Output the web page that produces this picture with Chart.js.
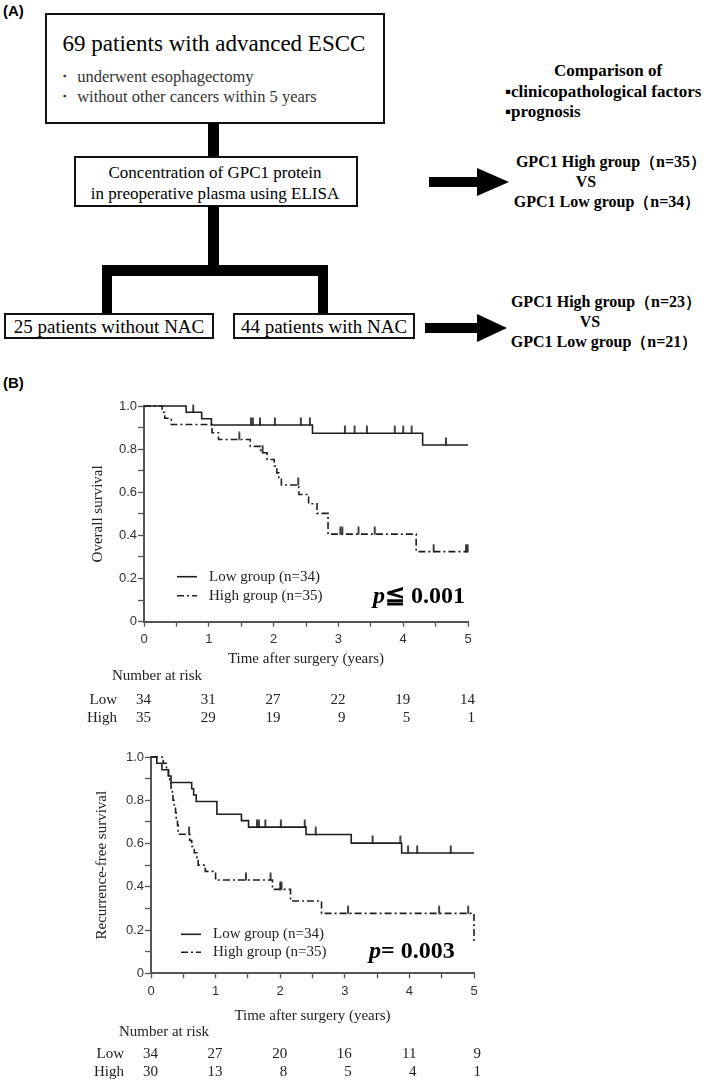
<!DOCTYPE html>
<html lang="en">
<head>
  <meta charset="UTF-8">
  <title>GPC1 in ESCC - study design and survival</title>
  <script src="https://cdn.jsdelivr.net/npm/chart.js"></script>
  <style>
    body {
      margin: 0;
      width: 709px;
      height: 1080px;
      position: relative;
      overflow: hidden;
      background: #fff;
      font-family: "Liberation Serif", serif;
      color: #000;
    }
    .box { position: absolute; border: 2px solid #111; box-sizing: border-box; background: #fff; }
    .bar { position: absolute; background: #000; }
    .t { position: absolute; white-space: nowrap; line-height: 1; }
    .c { transform: translate(-50%, -50%); }
    .l { transform: translateY(-50%); }
    .b { font-weight: bold; }
    .panel { position: absolute; font-family: "Liberation Sans", Arial, sans-serif; font-weight: bold; font-size: 15px; }
    .chartbox { position: absolute; left: 0; width: 709px; height: 350px; }
  </style>
</head>
<body>
  <!-- (A) flowchart -->
  <div class="panel" style="left:3px;top:2px">(A)</div>

  <div class="box" style="left:45px;top:13px;width:340px;height:111px"></div>
  <div class="t c" style="left:214px;top:43px;font-size:23px">69 patients with advanced ESCC</div>
  <div class="t l" style="left:56px;top:77px;font-size:16.5px;color:#333">・ underwent esophagectomy</div>
  <div class="t l" style="left:56px;top:97px;font-size:16.5px;color:#333">・ without other cancers within 5 years</div>

  <div class="bar" style="left:208px;top:123px;width:11px;height:34px"></div>

  <div class="box" style="left:74px;top:156px;width:284px;height:51px"></div>
  <div class="t c" style="left:215px;top:172px;font-size:17px">Concentration of GPC1 protein</div>
  <div class="t c" style="left:215px;top:193px;font-size:17px">in preoperative plasma using ELISA</div>

  <div class="bar" style="left:208px;top:206px;width:11px;height:60px"></div>
  <div class="bar" style="left:102px;top:265px;width:226px;height:11px"></div>
  <div class="bar" style="left:102px;top:265px;width:10px;height:49px"></div>
  <div class="bar" style="left:318px;top:265px;width:10px;height:49px"></div>

  <div class="box" style="left:4px;top:313px;width:210px;height:26px"></div>
  <div class="t c" style="left:109px;top:326px;font-size:19px">25 patients without NAC</div>
  <div class="box" style="left:233px;top:313px;width:182px;height:26px"></div>
  <div class="t c" style="left:324px;top:326px;font-size:19px">44 patients with NAC</div>

  <svg style="position:absolute;left:0;top:0" width="709" height="380">
    <rect x="429" y="177" width="50" height="10" fill="#000"/>
    <polygon points="477,168 509,182 477,196" fill="#000"/>
    <rect x="425" y="323" width="54" height="10" fill="#000"/>
    <polygon points="477,314 507,328 477,342" fill="#000"/>
  </svg>

  <div class="t c b" style="left:608px;top:70px;font-size:17px">Comparison of</div>
  <div class="t l b" style="left:505px;top:91px;font-size:17px">▪clinicopathological factors</div>
  <div class="t l b" style="left:505px;top:111px;font-size:17px">▪prognosis</div>

  <div class="t c b" style="left:611px;top:162px;font-size:16px">GPC1 High group（n=35）</div>
  <div class="t c b" style="left:586px;top:182px;font-size:16px">VS</div>
  <div class="t c b" style="left:607px;top:202px;font-size:16px">GPC1 Low group（n=34）</div>

  <div class="t c b" style="left:606px;top:302px;font-size:16px">GPC1 High group（n=23）</div>
  <div class="t c b" style="left:590px;top:322px;font-size:16px">VS</div>
  <div class="t c b" style="left:604px;top:342px;font-size:16px">GPC1 Low group（n=21）</div>

  <!-- (B) survival curves -->
  <div class="panel" style="left:3px;top:374px">(B)</div>
  <div class="chartbox" style="top:380px"><canvas id="osChart" width="709" height="350"></canvas></div>
  <div class="chartbox" style="top:730px"><canvas id="rfsChart" width="709" height="350"></canvas></div>

  <script>
    // years shown in the number-at-risk tables
    const riskYears = [0, 1, 2, 3, 4, 5];

    // Overall survival
    const osLowTimes = [0, 0.65, 0.89, 1.04, 2.60, 4.30, 5.0];
    const osLowSurv = [1, 0.971, 0.941, 0.912, 0.874, 0.819, 0.819];
    const osLowCensor = [0.76, 1.65, 1.68, 1.79, 2.02, 2.42, 2.56, 3.10, 3.25, 3.44, 3.87, 4.00, 4.13, 4.66];
    const osHighTimes = [0, 0.28, 0.32, 0.42, 1.05, 1.15, 1.64, 1.80, 1.90, 2.01, 2.05, 2.08, 2.12, 2.39, 2.54, 2.67, 2.84, 4.20, 5.0];
    const osHighSurv = [1, 0.971, 0.943, 0.914, 0.876, 0.845, 0.813, 0.783, 0.752, 0.722, 0.690, 0.664, 0.634, 0.590, 0.547, 0.502, 0.406, 0.325, 0.325];
    const osHighCensor = [1.47, 1.83, 2.38, 3.03, 3.06, 3.31, 3.56, 4.47, 4.97, 4.995];
    const osRiskLow = [34, 31, 27, 22, 19, 14];
    const osRiskHigh = [35, 29, 19, 9, 5, 1];

    // Recurrence-free survival
    const rfsLowTimes = [0, 0.09, 0.17, 0.27, 0.31, 0.63, 0.66, 0.70, 1.02, 1.40, 1.51, 2.40, 3.10, 3.88, 5.0];
    const rfsLowSurv = [1, 0.971, 0.941, 0.912, 0.882, 0.853, 0.824, 0.794, 0.735, 0.706, 0.676, 0.642, 0.602, 0.556, 0.556];
    const rfsLowCensor = [1.64, 1.67, 1.77, 2.01, 2.38, 2.55, 3.43, 3.86, 3.98, 4.12, 4.64];
    const rfsHighTimes = [0, 0.19, 0.24, 0.27, 0.29, 0.31, 0.33, 0.34, 0.36, 0.38, 0.39, 0.41, 0.42, 0.60, 0.63, 0.67, 0.71, 0.73, 0.84, 1.00, 1.88, 2.16, 2.64, 5.0];
    const rfsHighSurv = [1, 0.971, 0.943, 0.914, 0.886, 0.857, 0.829, 0.800, 0.771, 0.743, 0.714, 0.686, 0.643, 0.614, 0.586, 0.557, 0.529, 0.500, 0.471, 0.431, 0.388, 0.334, 0.277, 0.139];
    const rfsHighCensor = [0.59, 1.47, 1.85, 2.00, 2.02, 3.05, 4.46, 4.91];
    const rfsRiskLow = [34, 27, 20, 16, 11, 9];
    const rfsRiskHigh = [30, 13, 8, 5, 4, 1];

    const INK = '#1e1e1e';
    const AXIS = '#555';
    const HIGH_DASH = [7, 3, 2, 3];

    // small upward tick used as censor mark
    const censorMark = document.createElement('canvas');
    censorMark.width = 4;
    censorMark.height = 16;
    const cm = censorMark.getContext('2d');
    cm.fillStyle = '#111';
    cm.fillRect(1.2, 0.5, 1.6, 8);

    function steps(times, surv) {
      return times.map((t, i) => ({ x: t, y: surv[i] }));
    }

    // value of the step curve at time t
    function survAt(times, surv, t) {
      let v = surv[0];
      for (let i = 0; i < times.length; i++) if (times[i] <= t) v = surv[i];
      return v;
    }

    function censors(times, surv, cens) {
      return cens.map(t => ({ x: t, y: survAt(times, surv, t) }));
    }

    function makeExtras(o) {
      return {
        id: 'extras',
        afterDraw(chart) {
          const { ctx, chartArea: a, scales: { x } } = chart;
          ctx.save();
          ctx.fillStyle = '#222';
          ctx.font = '15px "Liberation Serif"';
          ctx.textBaseline = 'middle';

          // y title
          ctx.save();
          ctx.translate(a.left + o.yTitleX, (a.top + a.bottom) / 2);
          ctx.rotate(-Math.PI / 2);
          ctx.textAlign = 'center';
          ctx.fillText(o.yTitle, 0, 0);
          ctx.restore();

          // x title
          ctx.textAlign = 'center';
          ctx.fillText('Time after surgery (years)', (a.left + a.right) / 2, a.bottom + o.timeY);

          // number at risk
          ctx.textAlign = 'left';
          ctx.fillText('Number at risk', a.left - 32, a.bottom + o.narY);
          ctx.textAlign = 'right';
          ctx.fillText('Low', a.left - 27, a.bottom + o.lowY);
          ctx.fillText('High', a.left - 27, a.bottom + o.highY);
          riskYears.forEach((yr, i) => {
            const px = x.getPixelForValue(yr) + 7;
            ctx.fillText(String(o.riskLow[i]), px, a.bottom + o.lowY);
            ctx.fillText(String(o.riskHigh[i]), px, a.bottom + o.highY);
          });

          // legend
          const ly1 = a.bottom + o.legLowY, ly2 = a.bottom + o.legHighY;
          ctx.strokeStyle = INK;
          ctx.lineWidth = 1.6;
          ctx.beginPath();
          ctx.moveTo(a.left + o.legX, ly1);
          ctx.lineTo(a.left + o.legX + 20, ly1);
          ctx.stroke();
          ctx.setLineDash(HIGH_DASH);
          ctx.beginPath();
          ctx.moveTo(a.left + o.legX, ly2);
          ctx.lineTo(a.left + o.legX + 20, ly2);
          ctx.stroke();
          ctx.setLineDash([]);
          ctx.textAlign = 'left';
          ctx.fillText('Low group (n=34)', a.left + o.legX + 32, ly1);
          ctx.fillText('High group (n=35)', a.left + o.legX + 32, ly2);

          // p value
          const px0 = a.left + o.pX, py = a.bottom + o.pY;
          ctx.fillStyle = '#000';
          ctx.font = 'italic bold 24px "Liberation Serif"';
          ctx.fillText('p', px0, py);
          const w = ctx.measureText('p').width;
          ctx.font = 'bold 24px "Liberation Serif"';
          ctx.fillText(o.pText, px0 + w, py);
          ctx.restore();
        }
      };
    }

    function kmChart(id, pad, low, high, extras) {
      new Chart(document.getElementById(id), {
        type: 'line',
        data: {
          datasets: [
            {
              label: 'Low group (n=34)',
              data: steps(low.times, low.surv),
              stepped: 'before',
              borderColor: INK,
              borderWidth: 1.6,
              pointRadius: 0,
              clip: 10
            },
            {
              label: 'High group (n=35)',
              data: steps(high.times, high.surv),
              stepped: 'before',
              borderColor: INK,
              borderWidth: 1.6,
              borderDash: HIGH_DASH,
              pointRadius: 0,
              clip: 10
            },
            {
              type: 'scatter',
              data: censors(low.times, low.surv, low.cens),
              pointStyle: censorMark,
              pointRadius: 4,
              clip: 10
            },
            {
              type: 'scatter',
              data: censors(high.times, high.surv, high.cens),
              pointStyle: censorMark,
              pointRadius: 4,
              clip: 10
            }
          ]
        },
        options: {
          responsive: false,
          animation: false,
          layout: { padding: pad },
          plugins: { legend: { display: false }, tooltip: { enabled: false } },
          scales: {
            x: {
              type: 'linear',
              min: 0,
              max: 5,
              afterFit(s) { s.height = 30; },
              border: { color: AXIS, width: 2 },
              grid: { drawOnChartArea: false, tickLength: 5, tickColor: AXIS, tickWidth: 1.3 },
              ticks: {
                stepSize: 0.5,
                autoSkip: false,
                maxRotation: 0,
                padding: 5,
                color: '#333',
                font: { family: 'Liberation Sans', size: 13 },
                callback: v => Number.isInteger(v) ? String(v) : ''
              }
            },
            y: {
              min: 0,
              max: 1,
              afterFit(s) { s.width = 40; },
              border: { color: AXIS, width: 2 },
              grid: { drawOnChartArea: false, tickLength: 6, tickColor: AXIS, tickWidth: 1.3 },
              ticks: {
                stepSize: 0.1,
                autoSkip: false,
                padding: 1,
                color: '#333',
                font: { family: 'Liberation Sans', size: 13 },
                callback: v => {
                  const k = Math.round(v * 10);
                  if (k % 2) return '';
                  return k === 0 ? '0' : (k / 10).toFixed(1);
                }
              }
            }
          }
        },
        plugins: [makeExtras(extras)]
      });
    }

    kmChart('osChart',
      { left: 104, right: 241, top: 26, bottom: 78.3 },
      { times: osLowTimes, surv: osLowSurv, cens: osLowCensor },
      { times: osHighTimes, surv: osHighSurv, cens: osHighCensor },
      {
        yTitle: 'Overall survival', yTitleX: -46,
        timeY: 37, narY: 54, lowY: 78, highY: 96,
        riskLow: osRiskLow, riskHigh: osRiskHigh,
        legX: 33, legLowY: -45, legHighY: -26,
        pX: 229, pY: -25, pText: '≦ 0.001'
      });

    kmChart('rfsChart',
      { left: 111, right: 235, top: 27, bottom: 76.7 },
      { times: rfsLowTimes, surv: rfsLowSurv, cens: rfsLowCensor },
      { times: rfsHighTimes, surv: rfsHighSurv, cens: rfsHighCensor },
      {
        yTitle: 'Recurrence-free survival', yTitleX: -49,
        timeY: 43, narY: 59, lowY: 81, highY: 99,
        riskLow: rfsRiskLow, riskHigh: rfsRiskHigh,
        legX: 30, legLowY: -39, legHighY: -21,
        pX: 218, pY: -22, pText: '= 0.003'
      });
  </script>
</body>
</html>
